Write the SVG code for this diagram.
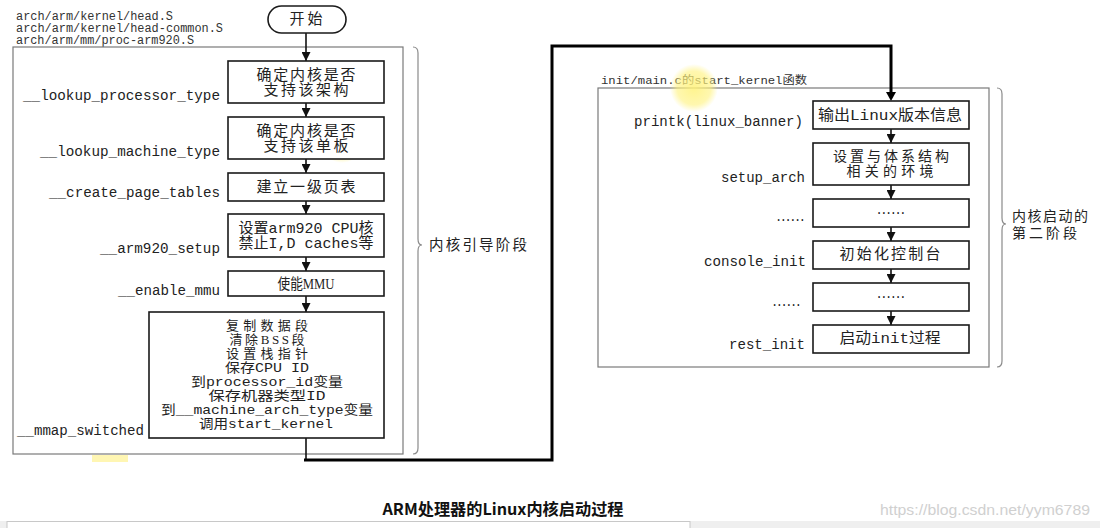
<svg xmlns="http://www.w3.org/2000/svg" width="1100" height="528" viewBox="0 0 1100 528">
<style>
.bg{fill:#ffffff}
.frame{fill:none;stroke:#7a7a7a;stroke-width:1.2}
.brace{fill:none;stroke:#8a8a8a;stroke-width:1.2}
.box{fill:#ffffff;stroke:#1a1a1a;stroke-width:1.6}
.t{font-family:"Liberation Mono","Noto Sans CJK SC",monospace;font-size:15px;fill:#222;text-anchor:middle}
.s{font-size:13px}
.lbl{font-family:"Liberation Mono","Noto Sans CJK SC",monospace;font-size:14px;fill:#222;text-anchor:end}
.hdr{font-family:"Liberation Mono","Noto Sans CJK SC",monospace;font-size:12px;fill:#333}
.side{font-family:"Liberation Sans","Noto Sans CJK SC",sans-serif;font-size:14.5px;fill:#222}
.flow{fill:none;stroke:#111;stroke-width:1.6}
.thick{fill:none;stroke:#000;stroke-width:3}
.title{font-family:"Noto Sans CJK SC",sans-serif;font-size:16px;font-weight:bold;fill:#111;text-anchor:middle}
.wm{font-family:"Liberation Sans",sans-serif;font-size:15px;fill:#d0d0d0;text-anchor:end}
</style>
<defs>
<marker id="ah" viewBox="0 0 10 10" refX="10" refY="5" markerWidth="9" markerHeight="9" markerUnits="userSpaceOnUse" orient="auto">
<path d="M0,0 L10,5 L0,10 z" fill="#111"/>
</marker>
<radialGradient id="hl">
<stop offset="0" stop-color="#fff27a" stop-opacity="0.85"/>
<stop offset="0.7" stop-color="#fff27a" stop-opacity="0.6"/>
<stop offset="1" stop-color="#fff27a" stop-opacity="0"/>
</radialGradient>
</defs>
<rect class="bg" x="0" y="0" width="1100" height="528"/>

<!-- headers -->
<g id="hdr-left">
<text class="hdr" x="16" y="20" textLength="157" lengthAdjust="spacingAndGlyphs">arch/arm/kernel/head.S</text>
<text class="hdr" x="16" y="32" textLength="207" lengthAdjust="spacingAndGlyphs">arch/arm/kernel/head-common.S</text>
<text class="hdr" x="16" y="44" textLength="178" lengthAdjust="spacingAndGlyphs">arch/arm/mm/proc-arm920.S</text>
</g>
<g id="hdr-right">
<text class="hdr" x="601" y="84" style="font-size:11.5px" textLength="206" lengthAdjust="spacingAndGlyphs">init/main.c的start_kernel函数</text>
</g>

<!-- frames and braces -->
<g id="stage1">
<rect class="frame" x="13" y="47" width="390" height="407"/>
<path class="brace" d="M413,47 Q418,47 418,53 L418,239 Q418,245 422,245 Q418,245 418,251 L418,448 Q418,454 413,454"/>
<text class="side" x="429" y="250" textLength="98" lengthAdjust="spacing">内核引导阶段</text>
</g>
<g id="stage2">
<rect class="frame" x="598" y="88" width="391" height="279"/>
<path class="brace" d="M997,88 Q1002,88 1002,94 L1002,218 Q1002,224 1006,224 Q1002,224 1002,230 L1002,361 Q1002,367 997,367"/>
<text class="side" x="1012" y="221" style="font-size:14px" textLength="76" lengthAdjust="spacing">内核启动的</text>
<text class="side" x="1012" y="238" style="font-size:14px" textLength="65" lengthAdjust="spacing">第二阶段</text>
</g>

<!-- highlights -->
<circle cx="694" cy="88" r="24" fill="url(#hl)"/>
<circle cx="342" cy="141" r="22" fill="url(#hl)"/>
<rect x="92" y="455" width="36" height="7" fill="#fff4a0" opacity="0.8"/>

<!-- connectors -->
<g id="connectors">
<path class="flow" d="M306,33 L306,61" marker-end="url(#ah)"/>
<path class="flow" d="M306,103 L306,117" marker-end="url(#ah)"/>
<path class="flow" d="M306,159 L306,173" marker-end="url(#ah)"/>
<path class="flow" d="M306,201 L306,214" marker-end="url(#ah)"/>
<path class="flow" d="M306,257 L306,271" marker-end="url(#ah)"/>
<path class="flow" d="M306,296 L306,312" marker-end="url(#ah)"/>
<path class="flow" d="M306,438 L306,460"/>
<path class="thick" d="M304,460 L552,460 L552,46 L891,46 L891,92"/>
<path d="M886,92 L896,92 L891,101 z" fill="#000"/>
<path class="flow" d="M891,129 L891,143" marker-end="url(#ah)"/>
<path class="flow" d="M891,185 L891,199" marker-end="url(#ah)"/>
<path class="flow" d="M891,227 L891,241" marker-end="url(#ah)"/>
<path class="flow" d="M891,269 L891,283" marker-end="url(#ah)"/>
<path class="flow" d="M891,311 L891,325" marker-end="url(#ah)"/>
</g>

<!-- left nodes -->
<g id="start">
<rect class="box" x="268" y="6" width="78" height="27" rx="13.5"/>
<text class="t" x="306" y="24" textLength="33" lengthAdjust="spacing">开始</text>
</g>
<g id="n-proc">
<rect class="box" x="228" y="61" width="156" height="42"/>
<text class="t" x="306" y="80" textLength="99" lengthAdjust="spacing">确定内核是否</text>
<text class="t" x="306" y="95" textLength="85" lengthAdjust="spacing">支持该架构</text>
<text class="lbl" x="220" y="100" textLength="197" lengthAdjust="spacingAndGlyphs">__lookup_processor_type</text>
</g>
<g id="n-mach">
<rect class="box" x="228" y="117" width="156" height="42"/>
<text class="t" x="306" y="136" textLength="99" lengthAdjust="spacing">确定内核是否</text>
<text class="t" x="306" y="151" textLength="85" lengthAdjust="spacing">支持该单板</text>
<text class="lbl" x="220" y="156" textLength="180" lengthAdjust="spacingAndGlyphs">__lookup_machine_type</text>
</g>
<g id="n-page">
<rect class="box" x="228" y="173" width="156" height="28"/>
<text class="t" x="306" y="192" textLength="99" lengthAdjust="spacing">建立一级页表</text>
<text class="lbl" x="220" y="197" textLength="171" lengthAdjust="spacingAndGlyphs">__create_page_tables</text>
</g>
<g id="n-setup">
<rect class="box" x="228" y="214" width="156" height="43"/>
<text class="t" x="306" y="233" textLength="135" lengthAdjust="spacingAndGlyphs">设置arm920 CPU核</text>
<text class="t" x="306" y="248" textLength="135" lengthAdjust="spacingAndGlyphs">禁止I,D caches等</text>
<text class="lbl" x="220" y="253" textLength="120" lengthAdjust="spacingAndGlyphs">__arm920_setup</text>
</g>
<g id="n-mmu">
<rect class="box" x="228" y="271" width="156" height="25"/>
<text class="t" x="306" y="289" style="font-family:'Liberation Serif','Noto Sans CJK SC',serif" textLength="57" lengthAdjust="spacingAndGlyphs">使能MMU</text>
<text class="lbl" x="220" y="295" textLength="102" lengthAdjust="spacingAndGlyphs">__enable_mmu</text>
</g>
<g id="n-mmap">
<rect class="box" x="149" y="312" width="235" height="126"/>
<text class="t s" x="267" y="330" textLength="82" lengthAdjust="spacing">复制数据段</text>
<text class="t s" x="267" y="344" style="font-family:'Liberation Serif','Noto Sans CJK SC',serif" textLength="75" lengthAdjust="spacing">清除BSS段</text>
<text class="t s" x="267" y="358" textLength="82" lengthAdjust="spacing">设置栈指针</text>
<text class="t s" x="267" y="372" textLength="84" lengthAdjust="spacingAndGlyphs">保存CPU ID</text>
<text class="t s" x="267" y="386" textLength="152" lengthAdjust="spacingAndGlyphs">到processor_id变量</text>
<text class="t s" x="267" y="400" textLength="117" lengthAdjust="spacingAndGlyphs">保存机器类型ID</text>
<text class="t s" x="267" y="414" textLength="212" lengthAdjust="spacingAndGlyphs">到__machine_arch_type变量</text>
<text class="t s" x="266" y="428" textLength="134" lengthAdjust="spacingAndGlyphs">调用start_kernel</text>
<text class="lbl" x="17" y="435" style="text-anchor:start" textLength="127" lengthAdjust="spacingAndGlyphs">__mmap_switched</text>
</g>

<!-- right nodes -->
<g id="r-banner">
<rect class="box" x="813" y="101" width="156" height="28"/>
<text class="t" x="890" y="120" textLength="144" lengthAdjust="spacingAndGlyphs">输出Linux版本信息</text>
<text class="lbl" x="803" y="126" textLength="169" lengthAdjust="spacingAndGlyphs">printk(linux_banner)</text>
</g>
<g id="r-arch">
<rect class="box" x="813" y="143" width="156" height="42"/>
<text class="t" x="891" y="161" style="font-size:14px" textLength="116" lengthAdjust="spacing">设置与体系结构</text>
<text class="t" x="890" y="176" style="font-size:14px" textLength="87" lengthAdjust="spacing">相关的环境</text>
<text class="lbl" x="805" y="182" textLength="84" lengthAdjust="spacingAndGlyphs">setup_arch</text>
</g>
<g id="r-dots1">
<rect class="box" x="813" y="199" width="156" height="28"/>
<text class="t" x="891" y="214" style="font-size:12px" textLength="31" lengthAdjust="spacing">......</text>
<text class="lbl" x="806" y="221" style="font-size:12px" textLength="31" lengthAdjust="spacing">......</text>
</g>
<g id="r-console">
<rect class="box" x="813" y="241" width="156" height="28"/>
<text class="t" x="890" y="259" textLength="101" lengthAdjust="spacing">初始化控制台</text>
<text class="lbl" x="806" y="266" textLength="102" lengthAdjust="spacingAndGlyphs">console_init</text>
</g>
<g id="r-dots2">
<rect class="box" x="813" y="283" width="156" height="28"/>
<text class="t" x="891" y="298" style="font-size:12px" textLength="31" lengthAdjust="spacing">......</text>
<text class="lbl" x="802" y="306" style="font-size:12px" textLength="31" lengthAdjust="spacing">......</text>
</g>
<g id="r-rest">
<rect class="box" x="813" y="325" width="156" height="28"/>
<text class="t" x="890" y="343" textLength="101" lengthAdjust="spacingAndGlyphs">启动init过程</text>
<text class="lbl" x="805" y="349" textLength="76" lengthAdjust="spacingAndGlyphs">rest_init</text>
</g>

<!-- caption -->
<text class="title" x="503" y="515" textLength="241" lengthAdjust="spacingAndGlyphs">ARM处理器的Linux内核启动过程</text>
<text class="wm" x="1090" y="515" textLength="210" lengthAdjust="spacingAndGlyphs">https://blog.csdn.net/yym6789</text>
<rect x="0" y="521" width="1100" height="7" fill="#efefef"/>
<rect x="7" y="521.5" width="683" height="8" fill="#ffffff" stroke="#c8c8c8" stroke-width="1"/>
</svg>
